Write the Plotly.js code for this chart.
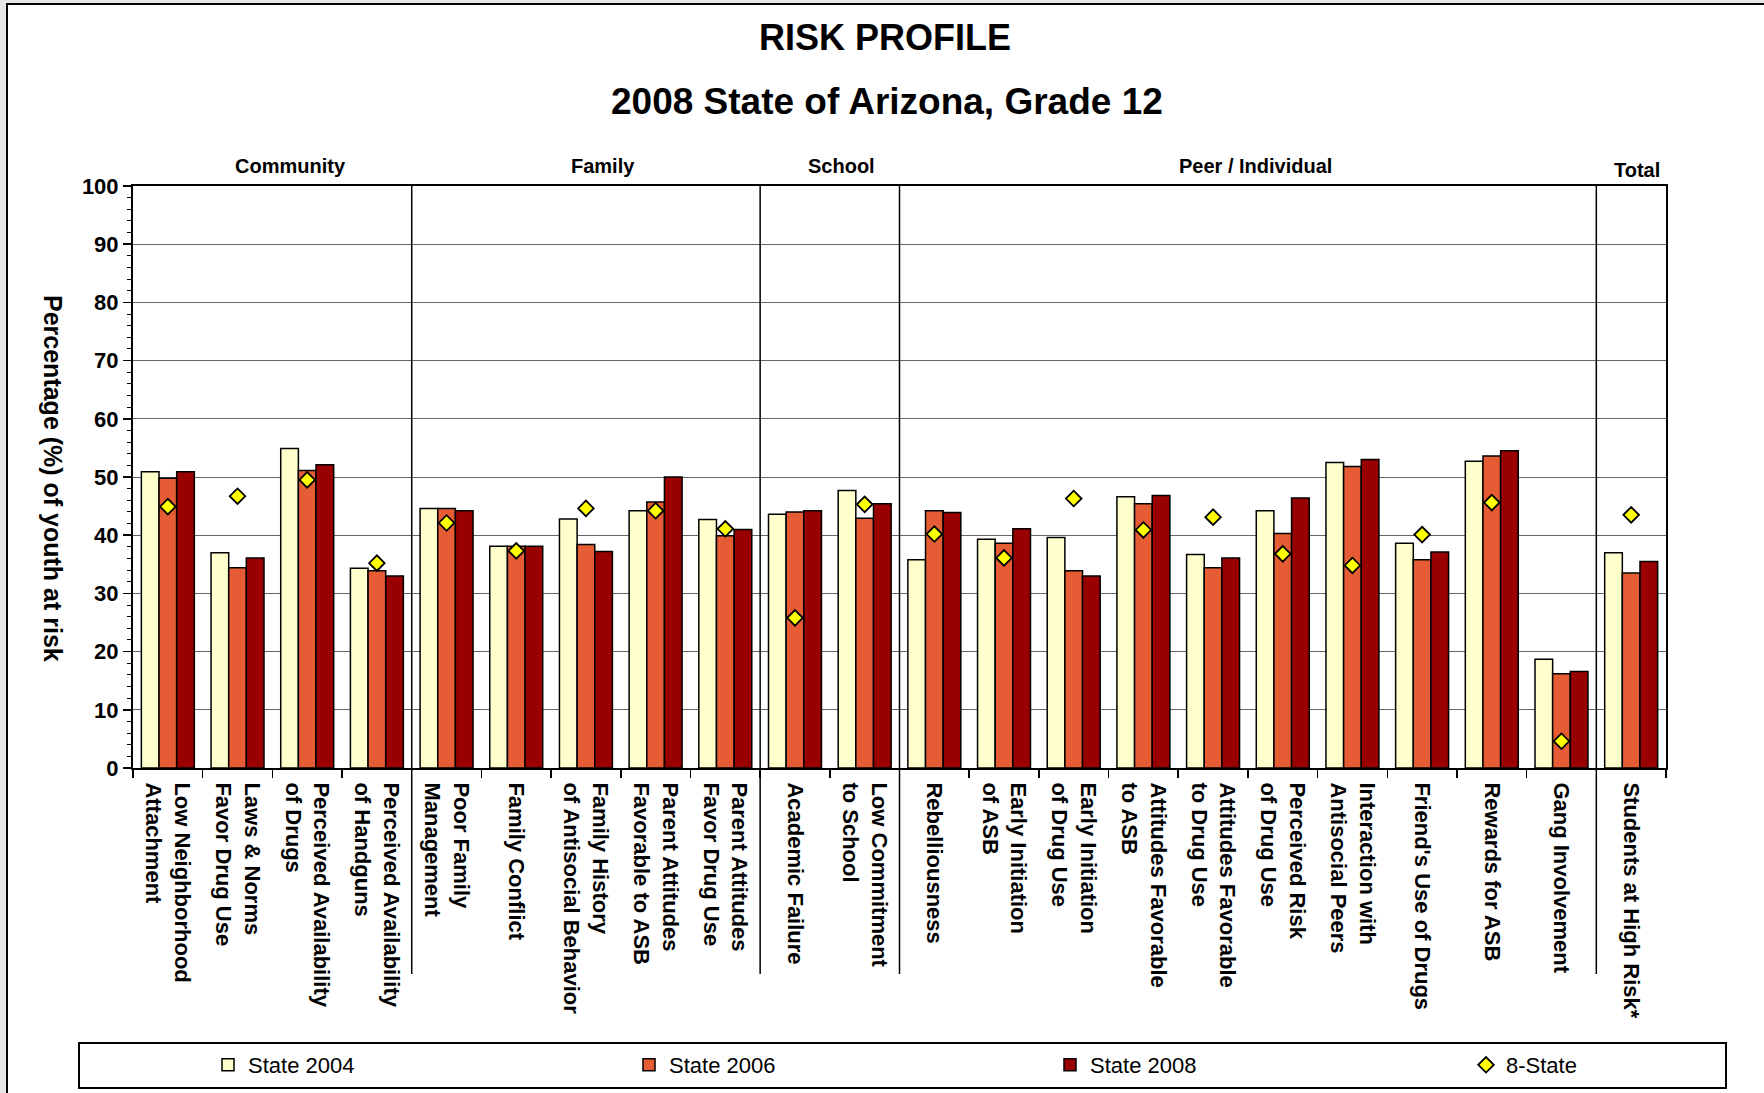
<!DOCTYPE html>
<html>
<head>
<meta charset="utf-8">
<script src="https://cdn.plot.ly/plotly-3.0.1.min.js"></script>
<style>
  html, body { margin: 0; padding: 0; background: #e6e6e6; overflow: hidden; }
  #chart { width: 1764px; height: 1093px; }
</style>
</head>
<body>
<div id="chart"></div>
<script>
// ---- Data ----
const categories = [
  "Low Neighborhood<br>Attachment",
  "Laws & Norms<br>Favor Drug Use",
  "Perceived Availability<br>of Drugs",
  "Perceived Availability<br>of Handguns",
  "Poor Family<br>Management",
  "Family Conflict",
  "Family History<br>of Antisocial Behavior",
  "Parent Attitudes<br>Favorable to ASB",
  "Parent Attitudes<br>Favor Drug Use",
  "Academic Failure",
  "Low Commitment<br>to School",
  "Rebelliousness",
  "Early Initiation<br>of ASB",
  "Early Initiation<br>of Drug Use",
  "Attitudes Favorable<br>to ASB",
  "Attitudes Favorable<br>to Drug Use",
  "Perceived Risk<br>of Drug Use",
  "Interaction with<br>Antisocial Peers",
  "Friend's Use of Drugs",
  "Rewards for ASB",
  "Gang Involvement",
  "Students at High Risk*"
];
const state2004 = [50.9, 37.0, 54.9, 34.3, 44.6, 38.1, 42.8, 44.2, 42.7, 43.6, 47.7, 35.8, 39.3, 39.6, 46.6, 36.7, 44.2, 52.5, 38.6, 52.7, 18.7, 37.0];
const state2006 = [49.8, 34.4, 51.1, 33.9, 44.6, 38.1, 38.4, 45.7, 39.9, 44.0, 42.9, 44.2, 38.6, 33.9, 45.4, 34.4, 40.3, 51.8, 35.8, 53.6, 16.2, 33.5];
const state2008 = [50.9, 36.1, 52.1, 33.0, 44.2, 38.1, 37.2, 50.0, 41.0, 44.2, 45.4, 43.9, 41.1, 33.0, 46.8, 36.1, 46.4, 53.0, 37.1, 54.5, 16.6, 35.5];
const eightState = [44.9, 46.7, 49.5, 35.2, 42.1, 37.3, 44.6, 44.2, 41.1, 25.8, 45.3, 40.2, 36.1, 46.3, 40.9, 43.1, 36.8, 34.8, 40.1, 45.6, 4.6, 43.5];
const seriesNames = ["State 2004", "State 2006", "State 2008", "8-State"];
const groupNames = ["Community", "Family", "School", "Peer / Individual", "Total"];
const groupSizes = [4, 5, 2, 10, 1];
const yTicks = [0, 10, 20, 30, 40, 50, 60, 70, 80, 90, 100];

// ---- Layout geometry (pixels) ----
const W = 1764, H = 1093;
const L = 133, R = 1666, T = 186, B = 768;
const pw = R - L, ph = B - T;
const px = x => (x - L) / pw;
const py = y => (B - y) / ph;

const FONT = "Liberation Sans, Arial, sans-serif";
const barLine = { color: "#000000", width: 1.5 };

const traces = [
  { type: "bar", name: seriesNames[0], x: categories, y: state2004,
    marker: { color: "#FFFFCC", line: barLine }, legend: "legend" },
  { type: "bar", name: seriesNames[1], x: categories, y: state2006,
    marker: { color: "#E55C35", line: barLine }, legend: "legend" },
  { type: "bar", name: seriesNames[2], x: categories, y: state2008,
    marker: { color: "#990000", line: barLine }, legend: "legend" },
  { type: "scatter", mode: "markers", name: seriesNames[3], x: categories, y: eightState,
    marker: { symbol: "diamond", size: 12, color: "#FFFF00", line: { color: "#000000", width: 1.8 } },
    legend: "legend2" }
];

const shapes = [];
const annotations = [];
// outer frame
shapes.push({ type: "rect", xref: "paper", yref: "paper", layer: "below",
  x0: px(7), x1: px(W + 10), y0: py(H + 10), y1: py(4),
  fillcolor: "#ffffff", line: { color: "#000000", width: 2 } });
// legend frame
shapes.push({ type: "rect", xref: "paper", yref: "paper", layer: "below",
  x0: px(79), x1: px(1726), y0: py(1088), y1: py(1043),
  fillcolor: "rgba(0,0,0,0)", line: { color: "#000000", width: 2 } });

let cum = 0;
groupSizes.forEach((n, i) => {
  cum += n;
  if (i < groupSizes.length - 1) {
    shapes.push({ type: "line", xref: "x", yref: "paper", layer: "above",
      x0: cum - 0.5, x1: cum - 0.5, y0: py(974), y1: 1,
      line: { color: "#000000", width: 1.5 } });
  }
});
const headerX = [290, 603, 841.5, 1255.5, 1637];
const headerY = [166.5, 166.5, 166.5, 166.5, 170];
groupNames.forEach((g, i) => {
  annotations.push({ text: "<b>" + g + "</b>", xref: "paper", yref: "paper",
    x: px(headerX[i]), y: py(headerY[i]), xanchor: "center", yanchor: "middle",
    showarrow: false, font: { family: FONT, size: 20, color: "#000" } });
});
annotations.push({ text: "<b>RISK PROFILE</b>", xref: "paper", yref: "paper",
  x: px(885), y: py(37), xanchor: "center", yanchor: "middle", showarrow: false,
  font: { family: FONT, size: 36, color: "#000" } });
annotations.push({ text: "<b>2008 State of Arizona, Grade 12</b>", xref: "paper", yref: "paper",
  x: px(886.5), y: py(101), xanchor: "center", yanchor: "middle", showarrow: false,
  font: { family: FONT, size: 37, color: "#000" } });
annotations.push({ text: "<b>Percentage (%) of youth at risk</b>", xref: "paper", yref: "paper",
  x: px(53), y: py(478), xanchor: "center", yanchor: "middle", textangle: 90, showarrow: false,
  font: { family: FONT, size: 25, color: "#000" } });

const legendCommon = {
  orientation: "h", xref: "paper", yref: "paper", xanchor: "left", yanchor: "middle",
  font: { family: FONT, size: 22, color: "#000" },
  bgcolor: "rgba(0,0,0,0)", borderwidth: 0, traceorder: "normal"
};

const layout = {
  width: W, height: H,
  margin: { l: L, r: W - R, t: T, b: H - B, pad: 0, autoexpand: false },
  paper_bgcolor: "#e6e6e6",
  plot_bgcolor: "rgba(0,0,0,0)",
  font: { family: FONT, color: "#000" },
  barmode: "group",
  bargap: 0.24,
  bargroupgap: 0,
  showlegend: true,
  legend: Object.assign({}, legendCommon, {
    x: px(208), y: py(1065), entrywidth: 376, entrywidthmode: "pixels"
  }),
  legend2: Object.assign({}, legendCommon, {
    x: px(1466), y: py(1065)
  }),
  xaxis: {
    type: "category",
    range: [-0.5, categories.length - 0.5],
    autorange: false,
    tickangle: 90,
    tickson: "boundaries",
    ticks: "outside", ticklen: 8, tickwidth: 1.5, tickcolor: "#000",
    ticklabelstandoff: 8,
    automargin: false,
    showline: true, linecolor: "#000", linewidth: 2, mirror: true,
    showgrid: false, zeroline: false,
    tickfont: { family: FONT, size: 22, color: "#000", weight: "bold" }
  },
  yaxis: {
    range: [0, 100],
    autorange: false,
    automargin: false,
    tickvals: yTicks, ticktext: yTicks.map(v => "<b>" + v + "</b>"),
    ticks: "outside", ticklen: 8, tickwidth: 1.5, tickcolor: "#000",
    minor: { dtick: 2, ticks: "outside", ticklen: 4, tickcolor: "#000", tickwidth: 1, showgrid: false },
    showline: true, linecolor: "#000", linewidth: 2, mirror: true,
    showgrid: true, gridcolor: "#666666", gridwidth: 1,
    zeroline: false,
    tickfont: { family: FONT, size: 22, color: "#000" }
  },
  shapes: shapes,
  annotations: annotations
};

Plotly.newPlot("chart", traces, layout, { displayModeBar: false, staticPlot: true });
</script>
</body>
</html>
